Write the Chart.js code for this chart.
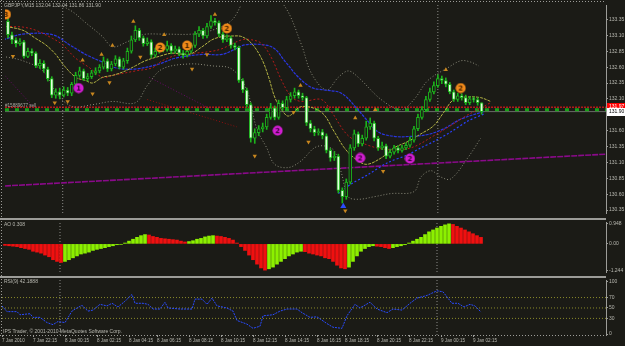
<!DOCTYPE html>
<html>
<head>
<meta charset="utf-8">
<script src="https://cdn.jsdelivr.net/npm/chart.js@4.4.0/dist/chart.umd.min.js"></script>
<style>
    html, body { margin: 0; padding: 0; background: #1b1b16; }
    #wrap { position: relative; width: 625px; height: 346px; overflow: hidden; background: #1b1b16; }
    #wrap canvas { position: absolute; left: 0; }
</style>
</head>
<body>
<div id="wrap">
    <canvas id="main" width="625" height="218" style="top:0"></canvas>
    <canvas id="ao" width="625" height="58" style="top:218px"></canvas>
    <canvas id="rsi" width="625" height="70" style="top:276px"></canvas>
</div>
<script>
// ============================================
// Data
// ============================================

const symbolTitle = 'GBPJPY,M15';
const orderLabel = '#15889677 sell';
const copyright = 'IPS Trader, \u00a9 2001-2010 MetaQuotes Software Corp.';

const opens = [133.32,133.11,133.03,132.97,133.00,132.77,132.85,132.82,132.62,132.66,
    132.57,132.42,132.16,132.21,132.16,132.24,132.19,132.33,132.47,132.54,
    132.42,132.45,132.51,132.54,132.60,132.70,132.57,132.65,132.73,132.60,
    132.70,132.85,133.03,133.18,133.06,132.97,133.00,132.79,132.85,132.91,
    132.88,132.94,132.85,132.89,132.82,132.79,132.85,132.94,133.12,133.18,
    133.09,133.24,133.33,133.30,133.12,133.03,133.06,132.94,132.91,132.39,
    132.24,132.01,131.48,131.57,131.63,131.66,131.81,131.96,131.81,132.03,
    131.96,132.09,132.15,132.21,132.15,132.12,131.72,131.63,131.57,131.58,
    131.52,131.29,131.17,131.20,130.66,130.56,130.79,131.33,131.55,131.39,
    131.48,131.66,131.72,131.48,131.33,131.36,131.20,131.26,131.33,131.29,
    131.33,131.37,131.45,131.63,131.81,131.93,132.09,132.21,132.31,132.42,
    132.39,132.33,132.21,132.09,132.15,132.12,132.04,132.10,132.09,132.04];
const highs = [133.38,133.15,133.06,133.05,133.02,132.90,132.89,132.84,132.72,132.70,
    132.60,132.45,132.26,132.27,132.29,132.28,132.36,132.52,132.60,132.57,
    132.50,132.55,132.59,132.64,132.76,132.73,132.69,132.78,132.76,132.74,
    132.90,133.09,133.25,133.21,133.09,133.06,133.03,132.90,132.96,132.95,
    133.01,132.97,132.93,132.92,132.86,132.89,132.98,133.16,133.24,133.21,
    133.29,133.41,133.37,133.33,133.15,133.11,133.09,132.98,132.93,132.42,
    132.27,132.04,131.63,131.68,131.72,131.86,132.03,131.99,132.08,132.07,
    132.14,132.20,132.27,132.24,132.19,132.14,131.76,131.67,131.63,131.62,
    131.55,131.32,131.27,131.23,130.70,130.84,131.38,131.61,131.58,131.53,
    131.75,131.80,131.75,131.51,131.42,131.39,131.31,131.37,131.36,131.37,
    131.41,131.50,131.67,131.86,131.98,132.14,132.27,132.37,132.48,132.46,
    132.43,132.36,132.24,132.19,132.18,132.16,132.14,132.13,132.12,132.04];
const lows = [133.06,132.97,132.92,132.94,132.74,132.75,132.78,132.59,132.58,132.52,
    132.38,132.12,132.11,132.10,132.13,132.15,132.15,132.30,132.44,132.39,
    132.38,132.42,132.48,132.51,132.57,132.53,132.54,132.62,132.57,132.57,
    132.66,132.82,133.00,133.02,132.93,132.94,132.75,132.76,132.82,132.84,
    132.85,132.81,132.82,132.78,132.74,132.76,132.82,132.91,133.08,133.05,
    133.06,133.21,133.26,133.08,132.99,133.00,132.90,132.87,132.36,132.20,
    131.97,131.42,131.40,131.52,131.58,131.62,131.78,131.77,131.78,131.92,
    131.93,132.05,132.11,132.11,132.08,131.68,131.58,131.52,131.53,131.47,
    131.25,131.12,131.13,130.62,130.46,130.52,130.76,131.29,131.35,131.36,
    131.45,131.62,131.44,131.29,131.30,131.16,131.17,131.23,131.25,131.26,
    131.30,131.34,131.42,131.60,131.78,131.90,132.06,132.18,132.28,132.34,
    132.29,132.18,132.06,132.06,132.08,132.01,132.01,132.05,132.00,131.86];
const closes = [133.11,133.03,132.97,133.00,132.77,132.85,132.82,132.62,132.66,132.57,
    132.42,132.16,132.21,132.16,132.24,132.19,132.33,132.47,132.54,132.42,
    132.45,132.51,132.54,132.60,132.70,132.57,132.65,132.73,132.60,132.70,
    132.85,133.03,133.18,133.06,132.97,133.00,132.79,132.85,132.91,132.88,
    132.94,132.85,132.89,132.82,132.79,132.85,132.94,133.12,133.18,133.09,
    133.24,133.33,133.30,133.12,133.03,133.06,132.94,132.91,132.39,132.24,
    132.01,131.48,131.57,131.63,131.66,131.81,131.96,131.81,132.03,131.96,
    132.09,132.15,132.21,132.15,132.12,131.72,131.63,131.57,131.58,131.52,
    131.29,131.17,131.20,130.66,130.56,130.79,131.33,131.55,131.39,131.48,
    131.66,131.72,131.48,131.33,131.36,131.20,131.26,131.33,131.29,131.33,
    131.37,131.45,131.63,131.81,131.93,132.09,132.21,132.31,132.42,132.39,
    132.33,132.21,132.09,132.15,132.12,132.04,132.10,132.09,132.04,131.90];

const priceTicks = [133.35, 133.10, 132.85, 132.60, 132.35, 132.10, 131.85, 131.60, 131.35, 131.10, 130.85, 130.60, 130.35];
const askPrice = 131.97;
const orderPrice = 131.93;
const bidPrice = 131.90;

// overlays: [bar, price]
const blueMa = [[-1.25,133.03],[3.75,133.12],[11.25,133.11],[15.5,132.95],[19.5,132.80],[23,132.70],[27,132.59],[32,132.57],
    [38,132.65],[42,132.74],[48.75,132.80],[53.75,132.80],[57,132.88],[59.5,132.95],[64.5,132.95],[67,132.89],[69.5,132.70],
    [73,132.44],[76.25,132.28],[79.5,132.24],[83.75,132.19],[87.5,131.96],[90,131.78],[93,131.58],[97,131.51],[101.25,131.51],
    [105.5,131.54],[109.5,131.63],[113.75,131.78],[119.5,131.90]];
const blueTrail = [[83,130.61],[86.25,130.76],[90.5,130.91],[95.5,131.10],[100.5,131.22],[103.75,131.33],[107,131.43],
    [111.25,131.58],[115.5,131.75],[119.5,131.86]];
const redMa = [[0.5,133.24],[3.75,133.23],[7,133.18],[11.25,133.05],[13.75,132.95],[17,132.74],[20.5,132.59],[23.75,132.44],
    [26.25,132.47],[32,132.54],[36.25,132.59],[38.75,132.70],[43,132.80],[47,132.82],[51.25,132.85],[53.75,132.89],[58.75,133.03],
    [61.25,133.03],[63.75,132.97],[66.25,132.74],[68.75,132.39],[71.25,132.13],[73.75,132.06],[78.75,132.09],[81.25,131.90],
    [85.5,131.52],[90.5,131.37],[95.5,131.30],[101.25,131.33],[107,131.52],[111.25,131.68],[115,131.83],[118,131.93],[121.25,132.04]];
const yellowMa = [[-0.5,133.24],[3.75,133.18],[7,133.05],[9.5,132.95],[12,132.80],[13.75,132.65],[17,132.44],[19.5,132.39],
    [21.25,132.35],[23.75,132.44],[26.25,132.47],[29.5,132.54],[32,132.62],[34.5,132.70],[38,132.77],[41.25,132.82],[45.5,132.80],
    [48.75,132.92],[51.25,133.03],[53.75,133.08],[56.25,133.09],[58.75,133.08],[61.25,132.97],[63.75,132.73],[65.5,132.44],
    [67,132.13],[68.75,131.93],[70.5,131.83],[73.75,131.98],[78.75,131.89],[82,131.58],[84.5,131.33],[87,131.17],[90,131.07],
    [93.75,131.17],[97,131.33],[100.5,131.43],[103.75,131.55],[107,131.68],[109.5,131.89],[112,132.09],[115.5,132.13],
    [118.75,132.12],[121.25,132.06]];
const upperBand = [[6.25,133.76],[15.5,133.50],[19.5,133.30],[23.75,133.08],[26.25,132.92],[30,133.00],[33.75,133.11],
    [38.75,133.12],[46.25,133.12],[51.25,133.18],[56.25,133.34],[60,133.69],[65,133.76],[69.5,133.56],[73.75,132.95],
    [76.25,132.50],[80,132.24],[83,132.44],[85.5,132.54],[88,132.44],[93.75,132.09],[98.75,131.93],[102,132.09],[105.5,132.39],
    [110.5,132.59],[113.75,132.70],[116.25,132.68],[118.25,132.62]];
const lowerBand = [[-1.25,132.77],[3.75,132.70],[8.75,132.54],[12.5,132.16],[16.25,131.98],[21.25,132.01],[26.25,132.06],
    [32,132.04],[35,132.31],[38.75,132.57],[45.5,132.65],[51.25,132.62],[56.25,132.57],[60,132.24],[62.5,131.63],[65,131.33],
    [67,131.07],[70.5,131.02],[73.75,131.13],[77,131.33],[79.5,131.36],[82,131.28],[83.75,130.94],[85.5,130.56],[88,130.52],
    [92,130.56],[96.25,130.61],[102,130.64],[103.75,130.87],[106.25,130.97],[108.75,130.87],[111.25,130.84],[115.5,131.17],
    [118.75,131.48]];
const trendLine = [[-0.75,130.73],[150.25,131.23]];
const purpleSegA = [[-1.25,132.50],[7.5,131.90]];
const purpleSegB = [[35.5,132.44],[51.25,131.93]];
const darkRedSeg = [[35,132.09],[57.5,131.66]];

// markers: [bar, price, number]
const orangeBadges = [[-0.5,133.43,3],[38.25,132.91,2],[45,132.94,1],[55,133.21,2],[113.75,132.27,2]];
const magentaBadges = [[17.75,132.27,1],[67.75,131.60,2],[88.5,131.17,2],[101,131.16,2]];
const fractalsUp = [[31.5,133.32],[18.75,132.71],[23.5,132.80],[26.25,132.94],[39.25,133.11],[52,133.43],[73.5,132.31],
    [87.25,131.80],[92.25,131.93],[110,132.56]];
const fractalsDown = [[1.25,132.77],[11.75,132.04],[15,132.06],[21.25,132.18],[25.5,132.36],[33.25,132.76],[46.25,132.57],
    [50,132.80],[62,131.20],[71.75,131.89],[75.5,131.42],[84.75,130.34],[94.25,130.96]];
const buySignals = [[84.25,130.41]];
const starSignals = [[84,130.73]];

const separators = [13.75, 108];

// Awesome Oscillator
const aoValues = [-0.07,-0.09,-0.11,-0.13,-0.18,-0.22,-0.26,-0.35,-0.39,-0.44,
    -0.53,-0.61,-0.75,-0.83,-0.88,-0.83,-0.75,-0.66,-0.57,-0.48,
    -0.44,-0.39,-0.31,-0.26,-0.22,-0.18,-0.13,-0.09,-0.04,-0.02,
    0.04,0.13,0.22,0.31,0.39,0.44,0.42,0.35,0.31,0.26,
    0.24,0.22,0.20,0.18,0.13,0.09,0.11,0.15,0.22,0.26,
    0.33,0.37,0.39,0.37,0.35,0.31,0.26,0.18,0.04,-0.13,
    -0.31,-0.53,-0.75,-0.96,-1.14,-1.244,-1.18,-1.10,-0.96,-0.83,
    -0.70,-0.57,-0.48,-0.39,-0.35,-0.37,-0.44,-0.48,-0.53,-0.57,
    -0.66,-0.70,-0.83,-1.01,-1.14,-1.18,-1.10,-0.83,-0.57,-0.35,
    -0.22,-0.13,-0.09,-0.11,-0.13,-0.18,-0.22,-0.18,-0.13,-0.09,
    -0.04,0.04,0.13,0.22,0.31,0.44,0.57,0.66,0.75,0.83,
    0.90,0.948,0.92,0.83,0.75,0.66,0.57,0.48,0.39,0.308];
const aoTicks = [0.948, 0, -1.244];

// RSI(9): [bar, value]
const rsiLast = 42.1888;
const rsiPoints = [[-0.75,54],[0.5,43],[3,43],[3.75,37],[6.25,39],[7,32],[8.75,32],[10.5,22],[12,18],[13.25,24],[15,22],
    [16.75,44],[18,50],[19.25,55],[20.75,44],[22,46],[23.75,57],[25.5,54],[26.75,59],[28.25,52],[30,63],[31.75,76],[32.5,59],
    [34.5,59],[35.75,57],[37,48],[38.75,48],[40,61],[40.75,50],[43.75,48],[46.75,48],[47.5,67],[49.25,67],[50.5,57],[51.75,69],
    [53,54],[55.5,50],[57,44],[58,26],[60.5,19],[62,11],[63.75,15],[64.5,35],[67,37],[68.75,44],[70.5,48],[73,48],[74.25,41],
    [76.25,32],[78,33],[80.5,20],[82,13],[84.25,11],[85.5,35],[87.5,57],[88.75,50],[91.25,61],[93,48],[95.5,41],[97,48],
    [99.25,46],[101.25,59],[103,69],[105.5,74],[108,83],[109.5,81],[111.75,59],[113.25,59],[114.75,52],[116.25,57],[117.5,54],
    [119,rsiLast]];
const rsiLevels = [70, 50, 30];
const rsiTicks = [100, 70, 50, 30, 0];

const timeLabels = ['7 Jan 2010', '7 Jan 22:15', '8 Jan 00:15', '8 Jan 02:15', '8 Jan 04:15', '8 Jan 06:15', '8 Jan 08:15',
    '8 Jan 10:15', '8 Jan 12:15', '8 Jan 14:15', '8 Jan 16:15', '8 Jan 18:15', '8 Jan 20:15', '8 Jan 22:15', '9 Jan 00:15', '9 Jan 02:15'];
const timeTickBars = [-0.75, 7, 15, 23, 31, 38, 46, 54, 62, 70, 78, 85, 93, 101, 109, 117];

// ============================================
// Styling helpers
// ============================================

const BG = '#1b1b16';
const FRAME = '#9c9c98';
const TXT = '#b8b8b0';
const FONT = '"Liberation Sans", Arial, sans-serif';
const X_MIN = -0.75, X_MAX = 150.25;

const pts = pairs => pairs.map(([x, y]) => ({x, y}));

function lineDs(pairs, color, dash, width, order, tension) {
    return {
        type: 'line', data: pts(pairs), borderColor: color, borderWidth: width,
        borderDash: dash, pointRadius: 0, tension: tension, order: order, fill: false
    };
}

function hLine(value, color, dash, width, order) {
    return lineDs([[X_MIN, value], [X_MAX, value]], color, dash, width, order, 0);
}

function sepDatasets(lo, hi) {
    return separators.map(s => lineDs([[s, lo], [s, hi]], '#8c8c88', [1, 2], 1, 9, 0));
}

const badgeCache = {};
function badge(fill, ink, n) {
    const key = fill + n;
    if (badgeCache[key]) return badgeCache[key];
    const c = document.createElement('canvas');
    c.width = 11; c.height = 11;
    const g = c.getContext('2d');
    g.fillStyle = fill;
    g.beginPath(); g.arc(5.5, 5.5, 5, 0, Math.PI * 2); g.fill();
    g.fillStyle = ink;
    g.font = 'bold 7px "DejaVu Sans", sans-serif';
    g.textAlign = 'center'; g.textBaseline = 'middle';
    g.fillText(String(n), 5.5, 6);
    badgeCache[key] = c;
    return c;
}

function badgeDs(list, fill, ink) {
    return {
        type: 'line', showLine: false, order: 0,
        data: list.map(([x, y]) => ({x, y})),
        pointStyle: ctx => badge(fill, ink, list[ctx.dataIndex][2])
    };
}

function markerDs(pairs, style, color, radius, rotation) {
    return {
        type: 'line', showLine: false, order: 0, data: pts(pairs),
        pointStyle: style, pointRadius: radius, pointRotation: rotation,
        pointBackgroundColor: color, pointBorderColor: color, pointBorderWidth: 0
    };
}

function rightAxis(min, max, ticks, fmt) {
    return {
        position: 'right', min: min, max: max, beginAtZero: false,
        afterFit(s) { s.width = 19; },
        afterBuildTicks(s) { s.ticks = ticks.map(v => ({value: v})); },
        grid: {drawOnChartArea: false, drawTicks: true, tickLength: 2, color: FRAME},
        border: {display: true, color: FRAME},
        ticks: {color: TXT, padding: 1, autoSkip: false, font: {family: FONT, size: 5}, callback: fmt}
    };
}

function hiddenX() {
    return {type: 'linear', min: X_MIN, max: X_MAX, offset: false, display: false, grid: {offset: false}};
}

// frame lines and panel captions
const panelFrame = {
    id: 'panelFrame',
    afterDraw(chart, args, o) {
        const {ctx, chartArea: a} = chart;
        ctx.save();
        ctx.strokeStyle = FRAME;
        ctx.fillStyle = FRAME;
        ctx.lineWidth = 1;
        if (o.topSolid) ctx.fillRect(0, 0, a.right, 2);
        ctx.setLineDash([1, 2]);
        if (o.topDotted) {
            ctx.beginPath(); ctx.moveTo(0, 1.5); ctx.lineTo(a.right, 1.5); ctx.stroke();
        }
        if (o.bottomDotted) {
            ctx.beginPath(); ctx.moveTo(0, a.bottom + 0.5); ctx.lineTo(a.right, a.bottom + 0.5); ctx.stroke();
        }
        ctx.beginPath(); ctx.moveTo(1.5, 0); ctx.lineTo(1.5, o.bottomDotted ? a.bottom : chart.height); ctx.stroke();
        ctx.setLineDash([]);
        ctx.textBaseline = 'top';
        (o.texts || []).forEach(t => {
            ctx.font = t.size + 'px ' + FONT;
            ctx.fillStyle = t.color || TXT;
            ctx.fillText(t.text, t.x, t.y);
        });
        (o.priceBoxes || []).forEach(b => {
            const y = Math.round(chart.scales.y.getPixelForValue(b.value));
            ctx.fillStyle = b.bg;
            ctx.fillRect(a.right + 1, y - 4, 19, 8);
            ctx.fillStyle = b.fg;
            ctx.font = '5px ' + FONT;
            ctx.textBaseline = 'middle';
            ctx.fillText(b.value.toFixed(2), a.right + 3, y);
        });
        ctx.restore();
    }
};

Chart.defaults.animation = false;
Chart.defaults.events = [];
Chart.defaults.plugins.legend.display = false;
Chart.defaults.plugins.tooltip.enabled = false;

// ============================================
// Main price panel
// ============================================

const bars = closes.map((_, i) => i);
const last = closes.length - 1;

new Chart(document.getElementById('main'), {
    type: 'bar',
    data: {
        datasets: [
            badgeDs(orangeBadges, '#f08a1a', '#4a2400'),
            badgeDs(magentaBadges, '#d21ed2', '#3a003a'),
            markerDs(fractalsUp, 'triangle', '#c8861e', 2.5, 0),
            markerDs(fractalsDown, 'triangle', '#c8861e', 2.5, 180),
            markerDs(buySignals, 'triangle', '#2a4cff', 3.5, 0),
            markerDs(starSignals, 'star', '#e8e8ff', 3, 0),
            {
                label: 'bodies', grouped: false, order: 1, barThickness: 3, minBarLength: 1,
                data: bars.map(i => ({x: i, y: [opens[i], closes[i]]})),
                backgroundColor: ctx => closes[ctx.dataIndex] < opens[ctx.dataIndex] ? '#e4ffe0' : BG,
                borderColor: '#1cb41c', borderWidth: 1, borderSkipped: false
            },
            {
                label: 'wicks', grouped: false, order: 2, barThickness: 1,
                data: bars.map(i => ({x: i, y: [lows[i], highs[i]]})),
                backgroundColor: '#1cb41c', borderWidth: 0
            },
            lineDs(yellowMa, '#b4b444', [3, 1], 1, 3, 0.35),
            lineDs(redMa, '#b81a1a', [2, 2], 1, 3, 0.35),
            lineDs(blueMa, '#2a36e0', [3, 1], 1.2, 3, 0.35),
            lineDs(blueTrail, '#2a40ff', [2, 2], 1.2, 3, 0.3),
            lineDs(upperBand, '#8c8c7c', [1, 2], 1, 4, 0.35),
            lineDs(lowerBand, '#8c8c7c', [1, 2], 1, 4, 0.35),
            hLine(askPrice, '#ff1a1a', [2, 1], 1, 5),
            hLine(orderPrice, '#18a018', [4, 6], 3, 5),
            hLine(bidPrice, '#6c6c68', [], 1, 5),
            lineDs(trendLine, '#8a0a8a', [6, 1], 1.6, 6, 0),
            lineDs(purpleSegA, '#6a0a6a', [1, 2], 1, 6, 0),
            lineDs(purpleSegB, '#6a0a6a', [1, 2], 1, 6, 0),
            lineDs(darkRedSeg, '#901010', [1, 2], 1, 6, 0),
            ...sepDatasets(130.304, 133.578)
        ]
    },
    options: {
        responsive: false,
        layout: {padding: {top: 2, left: 2, right: 0, bottom: 1}},
        scales: {
            x: hiddenX(),
            y: rightAxis(130.304, 133.578, priceTicks, v => v.toFixed(2))
        },
        plugins: {
            panelFrame: {
                topDotted: true,
                texts: [
                    {text: symbolTitle + ' ' + [opens[last], highs[last], lows[last], closes[last]].map(v => v.toFixed(2)).join(' '), x: 4, y: 3, size: 5},
                    {text: orderLabel, x: 5, y: 103, size: 4.6, color: '#a8a8a0'}
                ],
                priceBoxes: [
                    {value: askPrice, bg: '#ff0000', fg: '#ffffff'},
                    {value: bidPrice, bg: '#ffffff', fg: '#000000'}
                ]
            }
        }
    },
    plugins: [panelFrame]
});

// ============================================
// Awesome Oscillator panel
// ============================================

new Chart(document.getElementById('ao'), {
    type: 'bar',
    data: {
        datasets: [
            {
                label: 'AO', grouped: false, order: 1, barThickness: 3,
                data: aoValues.map((v, i) => ({x: i, y: v})),
                backgroundColor: ctx => {
                    const i = ctx.dataIndex;
                    return i > 0 && aoValues[i] > aoValues[i - 1] ? '#8cf000' : '#f01010';
                }
            },
            ...sepDatasets(-1.3317, 1.0357)
        ]
    },
    options: {
        responsive: false,
        layout: {padding: {top: 2, left: 2, right: 0, bottom: 2}},
        scales: {
            x: hiddenX(),
            y: rightAxis(-1.3317, 1.0357, aoTicks, v => v === 0 ? '0.00' : v.toFixed(3))
        },
        plugins: {
            panelFrame: {
                topSolid: true,
                texts: [{text: 'AO ' + aoValues[aoValues.length - 1].toFixed(3), x: 4, y: 4, size: 5}]
            }
        }
    },
    plugins: [panelFrame]
});

// ============================================
// RSI panel with time axis
// ============================================

new Chart(document.getElementById('rsi'), {
    type: 'line',
    data: {
        datasets: [
            lineDs(rsiPoints, '#2a4cff', [2, 1], 1, 1, 0),
            ...rsiLevels.map(l => hLine(l, '#8a8a2a', [1, 2], 1, 5)),
            ...sepDatasets(-1.85, 103.7)
        ]
    },
    options: {
        responsive: false,
        layout: {padding: {top: 2, left: 2, right: 0, bottom: 0}},
        scales: {
            x: {
                type: 'linear', min: X_MIN, max: X_MAX, offset: false, position: 'bottom',
                afterFit(s) { s.height = 11; },
                afterBuildTicks(s) { s.ticks = timeTickBars.map(v => ({value: v})); },
                grid: {drawOnChartArea: false, drawTicks: true, tickLength: 2, color: FRAME},
                border: {display: false},
                ticks: {
                    align: 'start', maxRotation: 0, autoSkip: false, padding: 1, color: TXT,
                    font: {family: FONT, size: 4.6},
                    callback: (v, i) => timeLabels[i]
                }
            },
            y: rightAxis(-1.85, 103.7, rsiTicks, v => String(v))
        },
        plugins: {
            panelFrame: {
                topSolid: true,
                bottomDotted: true,
                texts: [
                    {text: 'RSI(9) ' + rsiLast.toFixed(4), x: 4, y: 3, size: 5},
                    {text: copyright, x: 3, y: 53, size: 5}
                ]
            }
        }
    },
    plugins: [panelFrame]
});
</script>
</body>
</html>
